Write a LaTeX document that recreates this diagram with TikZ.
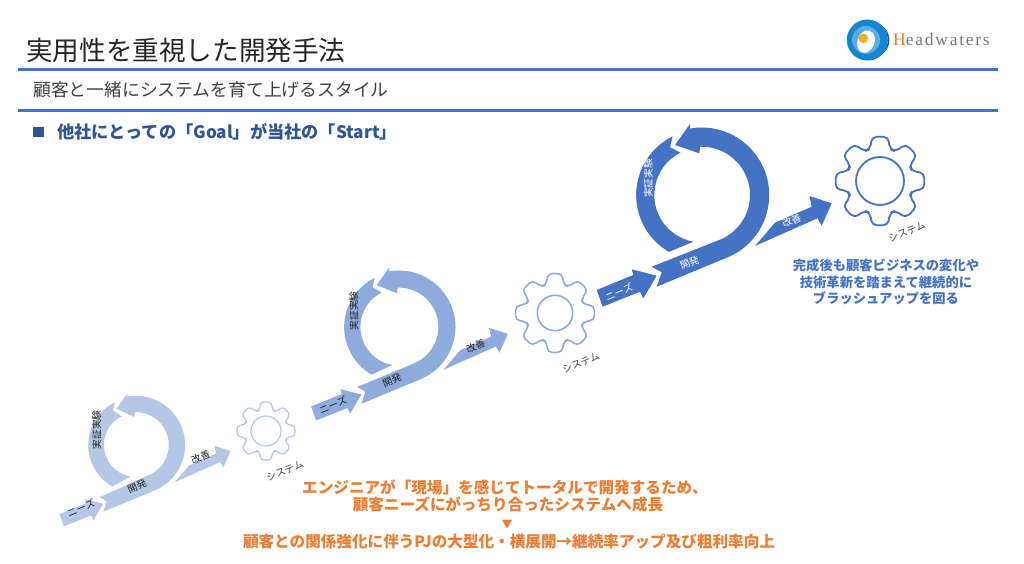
\documentclass[tikz,border=0pt]{standalone}
\usepackage{fontspec}
\newfontfamily\jpfont{Noto Sans CJK JP}
\newfontfamily\logofont[LetterSpace=10]{Liberation Serif}
\definecolor{deepblue}{HTML}{4472C4}
\definecolor{midblue}{HTML}{8FAADC}
\definecolor{paleblue}{HTML}{B4C7E7}
\definecolor{headblue}{HTML}{2F5597}
\definecolor{orangetext}{HTML}{ED7D31}
\definecolor{logoblue}{HTML}{1586D2}
\definecolor{logodark}{HTML}{0B5FA5}
\definecolor{logolight}{HTML}{55AEE6}
\definecolor{logogold}{HTML}{F9AE1E}
\begin{document}
\begin{tikzpicture}[x=1pt,y=1pt]
        \tikzstyle{jp}=[font=\jpfont,inner sep=0pt]
        \tikzstyle{rule}=[draw=deepblue,line width=2.6pt]
        \tikzstyle{steptext}=[jp,font=\jpfont\fontsize{9.8}{10}\selectfont,rotate=22.6]
        \tikzstyle{gearline}=[fill=white,line join=round]
        \tikzstyle{comment}=[jp,font=\jpfont\bfseries\fontsize{13.3}{16.5}\selectfont,text=deepblue,align=center]
        \tikzstyle{result}=[jp,font=\jpfont\bfseries\fontsize{15.6}{18}\selectfont,text=orangetext]

        \useasboundingbox (0,0) rectangle (1024,564);
        \fill[white] (0,0) rectangle (1024,564);

        % Draw the heading
        \node[jp,anchor=west,text=black!85,font=\jpfont\fontsize{26.6}{30}\selectfont] (title) at (26,514) {実用性を重視した開発手法};
        \coordinate (ruleA-l) at (18,494.5);
        \coordinate (ruleA-r) at (998,494.5);
        \draw[rule] (ruleA-l) -- (ruleA-r);
        \node[jp,anchor=west,text=black!75,font=\jpfont\fontsize{17.8}{20}\selectfont] (subtitle) at (33,474) {顧客と一緒にシステムを育て上げるスタイル};
        \coordinate (ruleB-l) at (18,453.5);
        \coordinate (ruleB-r) at (998,453.5);
        \draw[rule] (ruleB-l) -- (ruleB-r);
        \fill[headblue] (33,427) rectangle (44,437);
        \node[jp,anchor=west,text=headblue,font=\jpfont\bfseries\fontsize{17.2}{19}\selectfont] (goal) at (57,432) {他社にとっての「Goal」が当社の「Start」};

        % Draw the logo
        \fill[logoblue] (867.3,524) circle (20.5);
        \fill[logodark] (867.3,524) ++(-75:20.5) arc (-75:50:20.5) arc (50:-75:25 and 20.5);
        \fill[logolight] (866,524) circle (14);
        \fill[white,rotate around={-20:(866,522.4)}] (866,522.4) ellipse (8.5 and 11.5);
        \fill[logogold] (863.3,525.7) circle (4.8);
        \node[jp,anchor=west,font=\logofont\fontsize{17.5}{20}\selectfont,text=black!52] (logo) at (893,524) {\textcolor{orange!70!brown}{H}eadwaters};

        % Draw the three steps, each one larger than the last
        \foreach \cx/\cy/\s/\ri/\col in {136/119/0.728/45/paleblue,
                                         399/237/0.837/47/midblue,
                                         701.7/369/1/48.3/deepblue} {
            \begin{scope}[shift={(\cx,\cy)},scale=\s]
                \fill[\col] (-105,-95) -- (-68.3,-80) -- (-70,-74.3) -- (-45,-80.7)
                    -- (-58.3,-103.3) -- (-61.7,-96.7) -- (-99,-111.7) -- cycle;
                \fill[\col] (-50,-71.7) -- (-40,-77.3) -- (-45,-91.7) -- (-67.4:67.5)
                    arc (-67.4:100:67.5) -- (-11.7,71) -- (-26.7,50) -- (-2.3,\ri-6.6) -- (92:\ri)
                    arc (92:-67.4:\ri) -- cycle;
                \fill[\col] (-29,58.7) arc (116.3:240:65.6) -- (260:\ri-0.9)
                    arc (260:116.6:\ri-0.9) -- (-31.7,47.7) -- cycle;
                \fill[\col] (53.3,-51) -- (73.3,-27.7) -- (110,-11.7) -- (107.7,-1) -- (130,-8.3)
                    -- (120,-30.7) -- (115.7,-23.3) -- cycle;
            \end{scope}
        }

        % Label the steps
        \foreach \name/\nx/\ny/\dx/\dy/\kx/\ky/\px/\py/\txt in {low/81/56/137/78/200.7/107/96.7/134/black!85,
                                                                mid/333/159/392/184/475.7/218/354/253/black!85,
                                                                top/619/272/689.4/301.3/791.7/343.3/648.3/385.7/white} {
            \node[steptext,text=\txt] (\name-needs) at (\nx,\ny) {ニーズ};
            \node[steptext,text=\txt] (\name-dev) at (\dx,\dy) {開発};
            \node[steptext,text=\txt] (\name-kaizen) at (\kx,\ky) {改善};
            \node[steptext,rotate=68,text=\txt] (\name-proof) at (\px,\py) {実証実験};
        }

        % Draw the gears
        \foreach \name/\gx/\gy/\gr/\hr/\lx/\ly/\col in {low/266/133/29.5/15/19/-40/paleblue,
                                                        mid/555/251/40/17.7/26/-50/midblue,
                                                        top/880/383/45/24/27/-51/deepblue} {
            \begin{scope}[shift={(\gx,\gy)}]
                \draw[gearline,draw=\col,line width={0.04*\gr*1pt},rounded corners=0.11*\gr] (-17:0.74*\gr) -- (-10.5:\gr) -- (10.5:\gr) -- (17:0.74*\gr)
                    \foreach \a in {45,90,...,315} {
                        -- (\a-17:0.74*\gr) -- (\a-10.5:\gr) -- (\a+10.5:\gr) -- (\a+17:0.74*\gr)
                    } -- cycle;
                \draw[line width={0.04*\gr*1pt},draw=\col] (0,0) circle (\hr);
                \node[steptext,text=black!75] (\name-system) at (\lx,\ly) {システム};
            \end{scope}
        }

        % Annotate the top step
        \node[comment] (after) at (886,282) {完成後も顧客ビジネスの変化や\\技術革新を踏まえて継続的に\\ブラッシュアップを図る};

        % Draw the orange summary
        \node[result] (res-a) at (505,77) {エンジニアが「現場」を感じてトータルで開発するため、};
        \node[result] (res-b) at (508,59) {顧客ニーズにがっちり合ったシステムへ成長};
        \node[jp,font=\jpfont\fontsize{11}{12}\selectfont,text=orangetext] (res-mark) at (507,39) {▼};
        \node[result] (res-c) at (509,22) {顧客との関係強化に伴うPJの大型化・横展開→継続率アップ及び粗利率向上};
\end{tikzpicture}
\end{document}
